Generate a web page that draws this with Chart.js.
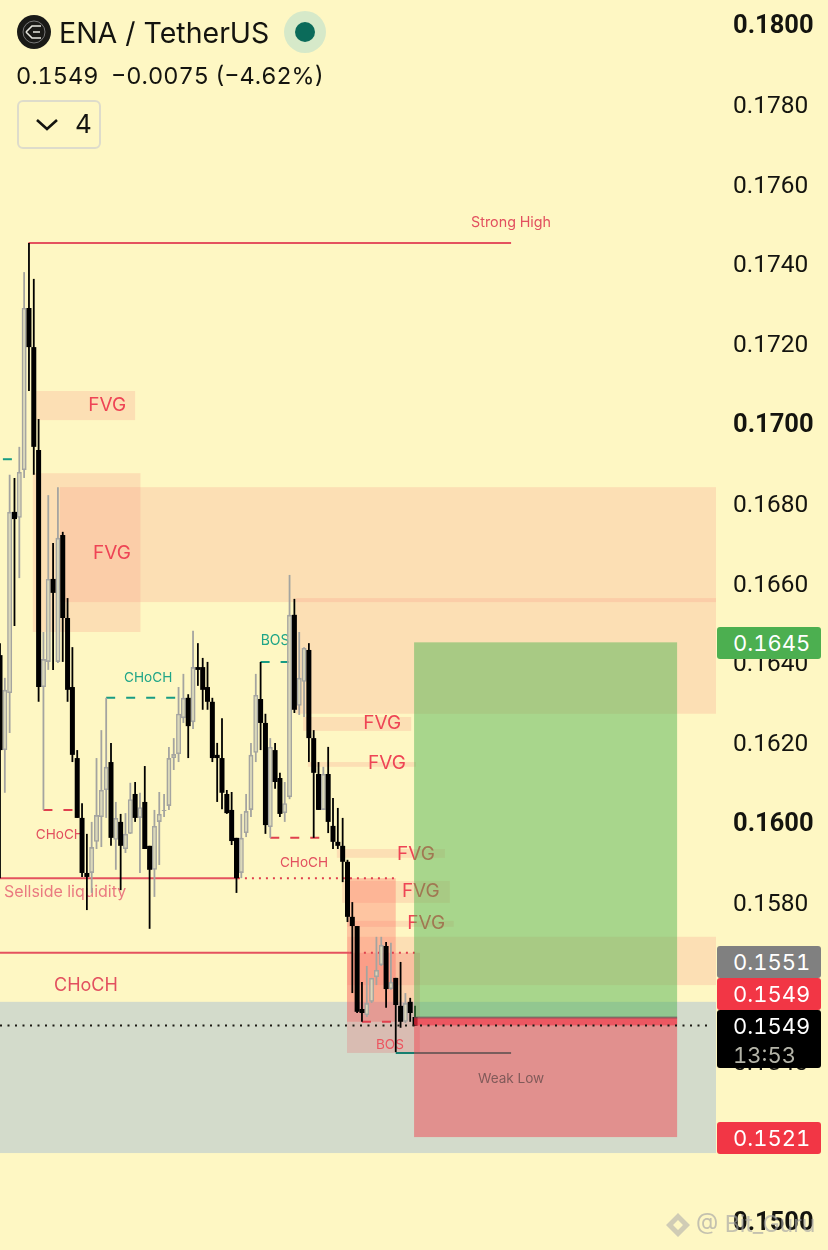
<!DOCTYPE html>
<html><head><meta charset="utf-8">
<style>
html,body{margin:0;padding:0;background:#fef7c3;width:828px;height:1250px;overflow:hidden;font-family:Inter,"Noto Sans",sans-serif;font-feature-settings:"tnum" 1}
#wrap{position:relative;width:828px;height:1250px}
canvas{position:absolute;left:0;top:0}
.abs{position:absolute;white-space:nowrap}
.tag{position:absolute;left:717px;width:104px;border-radius:3px;color:#fff;font-size:22px;line-height:32px;height:32px;box-sizing:border-box;padding-left:16px}
</style></head><body>
<div id="wrap">
<canvas id="c" width="828" height="1250"></canvas>
<div class="abs" style="left:17px;top:15px;width:34px;height:34px;border-radius:50%;background:#1a1a17"></div>
<svg class="abs" style="left:17px;top:15px" width="34" height="34" viewBox="0 0 34 34"><circle cx="17" cy="17" r="11" fill="none" stroke="#777" stroke-width="1"/><path d="M9 17 L15 11 H24 M9 17 L15 23 H24 M16 17 H23" fill="none" stroke="#e8e8e0" stroke-width="1.6"/></svg>
<div class="abs" style="left:59px;top:14px;font-size:28.5px;line-height:37px;color:#14140f;font-feature-settings:normal">ENA / TetherUS</div>
<div class="abs" style="left:284px;top:11px;width:42px;height:42px;border-radius:50%;background:#d6e9c9"></div>
<div class="abs" style="left:295px;top:22px;width:20px;height:20px;border-radius:50%;background:#0b6b5a"></div>
<div class="abs" style="left:16px;top:61px;font-size:23.5px;line-height:30px;color:#14140f;white-space:pre">0.1549  −0.0075 (−4.62%)</div>
<div class="abs" style="left:17px;top:100px;width:84px;height:49px;box-sizing:border-box;border:2px solid #dedccb;border-radius:6px"></div>
<svg class="abs" style="left:35px;top:117px" width="24" height="16"><path d="M2 3 L12 12 L22 3" fill="none" stroke="#14140f" stroke-width="2.6"/></svg>
<div class="abs" style="left:75px;top:107px;font-size:26px;line-height:34px;color:#14140f">4</div>

<div class="tag" style="top:627px;background:#4caf50">0.1645</div>
<div class="tag" style="top:946px;background:#808080">0.1551</div>
<div class="tag" style="top:978px;background:#f23645">0.1549</div>
<div class="tag" style="top:1010px;height:58px;background:#000">0.1549<div style="color:#b4b4a8;margin-top:-3px">13:53</div></div>
<div class="tag" style="top:1122px;background:#f23645">0.1521</div>

<svg class="abs" style="left:664px;top:1211px" width="28" height="28" viewBox="0 0 28 28"><path d="M14 2 L26 14 L14 26 L2 14 Z M14 9 L19 14 L14 19 L9 14 Z" fill="rgba(170,170,170,.55)" fill-rule="evenodd"/></svg>
<div class="abs" style="left:696px;top:1210px;font-size:23px;line-height:28px;color:rgba(165,165,165,.65);font-feature-settings:normal">@ Bit_Guru</div>
</div>
<script src="https://cdn.jsdelivr.net/npm/chart.js@4"></script>
<script>
// ---- data: one entry per candle, prices ----
const highs=[.16448,.16361,.16870,.16862,.16940,.17378,.17451,.17361,.17010,.16476,.16819,.16699,.16839,.16727,.16561,.16438,.16180,.16047,.15970,.16000,.16160,.16230,.16311,.16198,.16050,.16020,.16022,.16098,.16100,.16073,.16140,.15940,.16030,.16075,.16070,.16188,.16210,.16338,.16371,.16320,.16479,.16448,.16411,.16401,.16311,.16198,.16260,.16080,.16075,.15960,.16020,.16070,.16198,.16371,.16401,.16271,.16210,.16198,.16123,.16100,.16619,.16559,.16476,.16438,.16448,.16230,.16150,.16138,.16188,.16060,.16035,.16010,.15905,.15799,.15739,.15599,.15639,.15609,.15712,.15712,.15699,.15697,.15609,.15649,.15571,.15559,.15539];
const opens=[.16418,.16180,.16323,.16777,.16762,.16882,.17288,.17190,.16932,.16338,.16401,.16609,.16401,.16719,.16511,.16338,.16160,.16010,.15872,.15872,.15950,.16012,.16080,.16150,.15955,.16000,.15932,.15970,.16070,.16010,.16050,.15940,.15880,.16000,.16027,.16040,.16160,.16170,.16260,.16311,.16250,.16388,.16388,.16338,.16301,.16168,.16160,.16070,.16030,.15960,.15872,.15972,.16030,.16173,.16308,.16248,.15987,.16180,.16110,.16022,.16062,.16519,.16291,.16351,.16431,.16210,.16120,.16030,.16120,.15990,.15950,.15940,.15900,.15762,.15739,.15531,.15516,.15549,.15611,.15641,.15689,.15581,.15609,.15539,.15499,.15549,.15511];
const closes=[.16180,.16331,.16777,.16759,.16877,.17288,.17190,.16940,.16338,.16408,.16609,.16574,.16712,.16511,.16331,.16168,.16010,.15872,.15862,.15937,.16017,.16080,.16138,.15960,.16010,.15940,.15970,.16057,.16010,.16037,.15932,.15880,.15990,.16020,.16030,.16160,.16170,.16271,.16311,.16240,.16388,.16381,.16331,.16301,.16160,.16160,.16073,.16022,.15952,.15859,.15960,.16027,.16168,.16318,.16248,.15992,.16188,.16100,.16020,.16047,.16519,.16281,.16361,.16436,.16210,.16123,.16030,.16120,.16000,.15950,.15940,.15900,.15762,.15739,.15524,.15521,.15546,.15609,.15629,.15692,.15581,.15599,.15541,.15499,.15546,.15521,.15489];
const lows=[.15859,.16073,.16223,.16491,.16611,.16862,.17080,.16870,.16301,.16030,.16381,.16381,.16398,.16401,.16301,.16150,.16010,.15862,.15779,.15822,.15932,.15937,.16010,.15940,.15880,.15829,.15922,.15970,.16000,.15872,.15932,.15732,.15812,.15892,.16012,.16030,.16130,.16150,.16248,.16160,.16233,.16341,.16281,.16281,.16150,.16050,.16032,.16020,.15942,.15822,.15859,.15962,.16012,.16150,.16180,.15970,.15960,.16083,.16012,.16000,.16057,.16273,.16268,.16263,.16150,.15960,.16030,.16030,.15972,.15932,.15932,.15849,.15749,.15571,.15521,.15499,.15511,.15546,.15591,.15639,.15534,.15579,.15423,.15484,.15496,.15499,.15489];
const tickValues=[.15,.152,.154,.156,.158,.16,.162,.164,.166,.168,.17,.172,.174,.176,.178,.18];
const majorTicks=[.15,.16,.17,.18];
// FVG zones: start / end candle index, top / bottom price
const fvgStart=[7.5,6.8,12.4,61.3,62.8,63.8,69.8,70.9,72,72];
const fvgEnd=[28,29.1,148.36,148.36,85.2,86.2,92.2,93.2,94,148.36];
const fvgTop=[.17080,.16874,.16839,.16561,.16263,.16150,.15932,.15852,.15752,.15712];
const fvgBottom=[.17007,.16476,.16551,.16271,.16228,.16138,.15910,.15797,.15737,.15591];
// liquidity / structure levels
const swingZone=[0,148.36,.15549,.15170];
const redBoxA=[71.9,82,.15859,.15499];
const redBoxB=[71.9,87,.15672,.15421];
const longBox=[85.8,140.3,.1645,.1551];
const shortBox=[85.8,140.3,.1551,.1521];
const lastBand=[85.8,140.3,.1551,.1549];
const lastPrice=.1549;
const solidRedStart=[5.9,0,0],solidRedEnd=[105.9,49.3,72.5],solidRedPrice=[.17451,.15859,.15672];
const dotRedStart=[49.3,72.5],dotRedEnd=[82,87],dotRedPrice=[.15859,.15672];
const dashRedStart=[9,56,75],dashRedEnd=[16,67,82],dashRedPrice=[.16030,.15960,.15499];
const dashTealStart=[22,54,0.6],dashTealEnd=[37.5,60,2.6],dashTealPrice=[.16311,.16401,.16909];
const weakLow=[82,105.9,.15421];
// annotations
const fvgIdx=[22.2,23.2,79.2,80.2,86.2,87.2,88.3];
const fvgPrice=[.17045,.16674,.16246,.16146,.15920,.15825,.15745];
const noteText=['Strong High','Weak Low','CHoCH','BOS','CHoCH','CHoCH','Sellside liquidity','CHoCH','BOS'];
const noteIdx=[105.9,105.9,30.7,57,12.4,63,13.5,17.8,80.8];
const notePrice=[.17501,.15357,.16362,.16453,.15968,.15897,.15824,.15589,.15440];
const noteColor=['#e2505f','#26786a','#1fa587','#1fa587','#e2505f','#e2505f','#ea7a80','#e2505f','#ec5560'];
const noteSize=[14.3,13.6,13.6,14,13.6,13.6,16,18,13.6];

const xs=highs.map((_,i)=>i);
const isUp=i=>closes[i]>=opens[i];
const wick=f=>xs.filter(f).map(i=>({x:i,y:[lows[i],highs[i]]}));
const body=f=>xs.filter(f).map(i=>({x:i,y:[Math.min(opens[i],closes[i]),Math.max(opens[i],closes[i])]}));
const up=isUp,down=i=>!isUp(i);

function rect(c,b,color){const {x,y}=c.scales;const x0=x.getPixelForValue(b[0]),x1=x.getPixelForValue(b[1]),y0=y.getPixelForValue(b[2]),y1=y.getPixelForValue(b[3]);c.ctx.fillStyle=color;c.ctx.fillRect(x0,y0,x1-x0,y1-y0);}
function hline(c,a,b,p,color,w,dash,cap){const {x,y}=c.scales,g=c.ctx;g.save();g.strokeStyle=color;g.lineWidth=w;g.setLineDash(dash||[]);g.lineCap=cap||'butt';g.beginPath();const yy=y.getPixelForValue(p);g.moveTo(x.getPixelForValue(a),yy);g.lineTo(x.getPixelForValue(b),yy);g.stroke();g.restore();}
function text(c,s,i,p,color,size){const g=c.ctx;g.fillStyle=color;g.font=size+'px Inter';g.textAlign='center';g.textBaseline='middle';g.fillText(s,c.scales.x.getPixelForValue(i),c.scales.y.getPixelForValue(p));}

const overlay={id:'overlay',
 beforeDatasetsDraw(c){
  const g=c.ctx;g.save();
  rect(c,swingZone,'rgba(114,154,222,.3)');
  fvgStart.forEach((s,i)=>rect(c,[s,fvgEnd[i],fvgTop[i],fvgBottom[i]],'rgba(244,132,120,.2)'));
  rect(c,redBoxA,'rgba(255,82,82,.3)');
  rect(c,redBoxB,'rgba(242,64,80,.2)');
  solidRedPrice.forEach((p,i)=>hline(c,solidRedStart[i],solidRedEnd[i],p,'#e4525e',2));
  dotRedPrice.forEach((p,i)=>hline(c,dotRedStart[i],dotRedEnd[i],p,'#e0404e',2,[2,5]));
  dashRedPrice.forEach((p,i)=>hline(c,dashRedStart[i],dashRedEnd[i],p,'#e0404e',2,[9,11]));
  dashTealPrice.forEach((p,i)=>hline(c,dashTealStart[i],dashTealEnd[i],p,'#179c84',2,[9,11]));
  hline(c,weakLow[0],weakLow[1],weakLow[2],'#167f70',2);
  fvgIdx.forEach((k,i)=>text(c,'FVG',k,fvgPrice[i],'#ee4455',19));
  noteText.forEach((s,i)=>text(c,s,noteIdx[i],notePrice[i],noteColor[i],noteSize[i]));
  g.restore();
 },
 afterDatasetsDraw(c){
  const g=c.ctx;g.save();
  rect(c,longBox,'rgba(76,178,80,.48)');
  rect(c,shortBox,'rgba(242,54,69,.45)');
  rect(c,lastBand,'rgba(246,40,60,.55)');
  hline(c,longBox[0],longBox[1],longBox[3],'rgba(80,80,80,.55)',2);
  hline(c,0,147.6,lastPrice,'#1a1a14',2,[2,5.5]);
  g.restore();
 }};

new Chart(document.getElementById('c'),{
 type:'bar',
 data:{datasets:[
  {data:body(down),backgroundColor:'#000',barThickness:5,order:1,grouped:false,borderWidth:0,inflateAmount:0},
  {data:wick(down),backgroundColor:'#000',barThickness:1.8,order:2,grouped:false,borderWidth:0,inflateAmount:0},
  {data:body(up),backgroundColor:'rgba(228,226,190,.85)',borderColor:'#a4a4a0',borderWidth:1.6,borderSkipped:false,barThickness:5,order:3,grouped:false,inflateAmount:0},
  {data:wick(up),backgroundColor:'#a4a4a0',barThickness:1.8,order:4,grouped:false,borderWidth:0,inflateAmount:0}
 ]},
 options:{
  responsive:false,animation:false,
  layout:{padding:0,autoPadding:false},
  plugins:{legend:{display:false},tooltip:{enabled:false}},
  scales:{
   x:{type:'linear',display:false,min:0,max:148.36,offset:false,grid:{display:false}},
   y:{type:'linear',position:'right',min:.14927,max:.18060,
    border:{display:false},
    grid:{display:false,drawTicks:false},
    afterFit(s){s.width=112;s.paddingTop=0;s.paddingBottom=0;s.paddingLeft=0;s.paddingRight=0;s.getPadding=()=>({left:0,right:0,top:0,bottom:0});},
    afterBuildTicks(s){s.ticks=tickValues.map(v=>({value:v}));},
    ticks:{autoSkip:false,padding:17,crossAlign:'near',color:'#14140f',
     font(ctx){const v=ctx.tick?ctx.tick.value:0;const maj=majorTicks.some(m=>Math.abs(m-v)<1e-6);return {family:'Roboto',size:maj?25.5:24.5,weight:maj?'700':'400',lineHeight:.24};},
     callback:v=>['',v.toFixed(4)]}
   }
  }
 },
 plugins:[overlay]
});
</script>
</body></html>
